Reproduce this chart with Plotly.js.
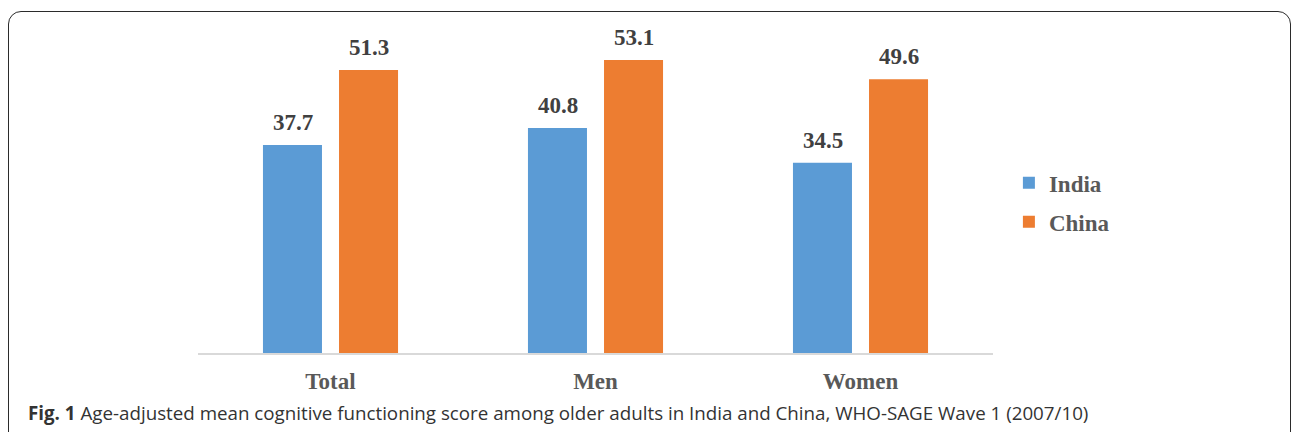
<!DOCTYPE html>
<html>
<head>
<meta charset="utf-8">
<script src="https://cdn.plot.ly/plotly-3.0.1.min.js"></script>
<style>
  html, body { margin: 0; padding: 0; background: #ffffff; }
  #wrap { position: relative; width: 1293px; height: 432px; overflow: hidden; }
  #chart { position: absolute; left: 0; top: 0; width: 1293px; height: 432px; }
  #frame {
    position: absolute; left: 8px; top: 11px; width: 1283px; height: 460px;
    border: 1.5px solid #2b2b2b; border-radius: 13px; box-sizing: border-box;
    pointer-events: none;
  }
</style>
</head>
<body>
<div id="wrap">
  <div id="chart"></div>
  <div id="frame"></div>
</div>
<script>
// Age-adjusted mean cognitive functioning score, WHO-SAGE Wave 1
const categories = ['Total', 'Men', 'Women'];
const indiaScores = [37.7, 40.8, 34.5];
const chinaScores = [51.3, 53.1, 49.6];
const seriesNames = ['India', 'China'];
const captionLabel = 'Fig. 1';
const captionText = 'Age-adjusted mean cognitive functioning score among older adults in India and China, WHO-SAGE Wave 1 (2007/10)';

const serif = 'Liberation Serif, Times New Roman, serif';
const blue = '#5b9bd5';
const orange = '#ed7d31';

const traces = [
  { type: 'bar', name: seriesNames[0], legendgroup: 'g0', x: categories, y: indiaScores,
    marker: { color: blue }, hoverinfo: 'skip' },
  { type: 'bar', name: seriesNames[1], legendgroup: 'g1', x: categories, y: chinaScores,
    marker: { color: orange }, hoverinfo: 'skip' }
];

// value labels above each bar, offset to the bar's slot within its group
const slotShift = 38;
const annotations = [];
[indiaScores, chinaScores].forEach((vals, s) => {
  vals.forEach((v, i) => {
    annotations.push({
      x: categories[i], y: v, xref: 'x', yref: 'y',
      xshift: s === 0 ? -slotShift : slotShift, yshift: 8,
      yanchor: 'bottom', showarrow: false,
      text: v.toFixed(1),
      font: { family: serif, size: 23, color: '#404040', weight: 'bold' }
    });
  });
});

annotations.push({
  xref: 'paper', yref: 'paper', x: -0.2164, y: -0.18,
  xanchor: 'left', yanchor: 'middle', showarrow: false, align: 'left',
  text: '<b>' + captionLabel + '</b> ' + captionText,
  font: { family: 'Open Sans, sans-serif', size: 18.75, color: '#333333' }
});

const layout = {
  width: 1293, height: 432,
  margin: { l: 198, r: 300, t: 22, b: 79 },
  paper_bgcolor: 'rgba(0,0,0,0)', plot_bgcolor: 'rgba(0,0,0,0)',
  barmode: 'group', bargap: 0.426, bargroupgap: 0.224,
  showlegend: true,
  legend: {
    x: 1.02, y: 0.455, xanchor: 'left', yanchor: 'middle',
    tracegroupgap: 6,
    font: { family: serif, size: 23, color: '#595959', weight: 'bold' },
    bgcolor: 'rgba(0,0,0,0)'
  },
  xaxis: {
    type: 'category', showline: true, linecolor: '#d9d9d9', linewidth: 1.5,
    ticks: '', showgrid: false, zeroline: false, ticklabelstandoff: 7,
    tickfont: { family: serif, size: 23, color: '#595959', weight: 'bold' }
  },
  yaxis: { visible: false, range: [0, 60], fixedrange: true },
  annotations: annotations
};

Plotly.newPlot('chart', traces, layout, { displayModeBar: false, staticPlot: true });
</script>
</body>
</html>
